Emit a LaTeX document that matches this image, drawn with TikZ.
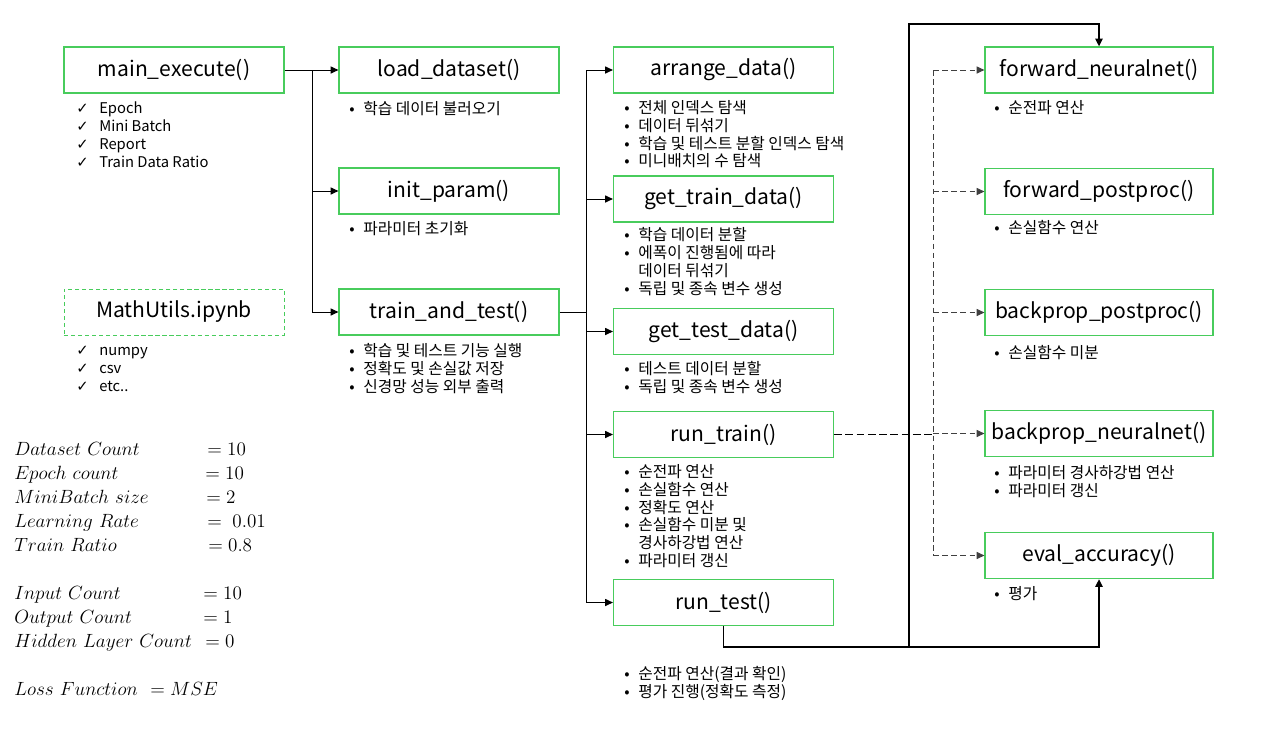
\documentclass[tikz,border=0pt]{standalone}
\usepackage{fontspec}
\usepackage{tikz}
\usetikzlibrary{arrows.meta}
\newfontfamily\kr{Noto Sans CJK KR}
\newfontfamily\sym{DejaVu Sans}
\definecolor{boxgreen}{RGB}{72,204,92}
\newcommand{\bl}{\strut\makebox[0.35cm][l]{•}}
\newcommand{\bc}{\strut\hspace*{0.35cm}}
\newcommand{\ck}{\strut\makebox[0.575cm][l]{{\sym ✓}}}
\newcommand{\tightlines}{\lineskiplimit=-20pt\relax}
\newcommand{\eqm}[1]{\scalebox{0.945}{$#1$}}

\begin{document}
\begin{tikzpicture}[x=0.025cm, y=-0.025cm,
	fn/.style={draw=boxgreen, line width=0.8pt, minimum width=5.5cm, minimum height=1.15cm, inner sep=0pt, font=\kr\fontsize{15}{18}\selectfont},
	fnr/.style={fn, minimum width=5.7cm},
	note/.style={anchor=north west, inner sep=0pt, align=left, font=\kr\fontsize{11.2}{12.7}\selectfont\tightlines},
	cklist/.style={note, font=\kr\fontsize{10.5}{12.7}\selectfont\tightlines},
	eq/.style={anchor=base west, inner sep=0pt, font=\fontsize{14.4}{16}\selectfont},
	arr/.style={line width=0.7pt, -{Triangle[length=5.5pt,width=5pt]}},
	dsh/.style={arr, dash pattern=on 4pt off 2.5pt, black!75},
	bold/.style={arr, line width=1.4pt}]
	\useasboundingbox (0,0) rectangle (1278,744);

	% left column
	\node[fn] (main) at (174,70) {main\_execute()};
	\node[cklist] (mainck) at (76,101) {\ck Epoch\\ \ck Mini Batch\\ \ck Report\\ \ck Train Data Ratio};
	\node[fn, dash pattern=on 3pt off 2pt, line width=0.6pt] (utils) at (174,312) {MathUtils.ipynb};
	\node[cklist] (utilsck) at (76,343) {\ck numpy\\ \ck csv\\ \ck etc..};

	\foreach \k/\t/\x/\v/\y in {1/Dataset\ Count/207/10/450, 2/Epoch\ count/205/10/474,
		3/MiniBatch\ size/206/2/498, 4/Learning\ Rate/207/\;0.01/522, 5/Train\ Ratio/208/0.8/546,
		6/Input\ Count/203/10/594, 7/Output\ Count/203/1/618, 8/Hidden\ Layer\ Count/205/0/642,
		9/Loss\ Function/150/MSE/690}{
		\node[eq] (k\k) at (14,\y+5) {\eqm{\t}};
		\node[eq] (v\k) at (\x,\y+5) {\eqm{=\v}};
	}

	% second column
	\node[fn] (load) at (449,70) {load\_dataset()};
	\node[note] (loadn) at (349,101) {\bl 학습 데이터 불러오기};
	\node[fn] (init) at (449,191) {init\_param()};
	\node[note] (initn) at (349,221) {\bl 파라미터 초기화};
	\node[fn] (train) at (449,312) {train\_and\_test()};
	\node[note] (trainn) at (349,343) {\bl 학습 및 테스트 기능 실행\\ \bl 정확도 및 손실값 저장\\ \bl 신경망 성능 외부 출력};

	% third column
	\node[fn] (arrange) at (723.5,70) {arrange\_data()};
	\node[note] (arrangen) at (624,100) {\bl 전체 인덱스 탐색\\ \bl 데이터 뒤섞기\\ \bl 학습 및 테스트 분할 인덱스 탐색\\ \bl 미니배치의 수 탐색};
	\node[fn] (gettrain) at (723.5,199) {get\_train\_data()};
	\node[note] (gettrainn) at (624,227) {\bl 학습 데이터 분할\\ \bl 에폭이 진행됨에 따라\\ \bc 데이터 뒤섞기\\ \bl 독립 및 종속 변수 생성};
	\node[fn] (gettest) at (723.5,331.5) {get\_test\_data()};
	\node[note] (gettestn) at (624,361) {\bl 테스트 데이터 분할\\ \bl 독립 및 종속 변수 생성};
	\node[fn] (runtrain) at (723.5,434.5) {run\_train()};
	\node[note] (runtrainn) at (624,464) {\bl 순전파 연산\\ \bl 손실함수 연산\\ \bl 정확도 연산\\ \bl 손실함수 미분 및\\ \bc 경사하강법 연산\\ \bl 파라미터 갱신};
	\node[fn] (runtest) at (723.5,602.5) {run\_test()};
	\node[note] (runtestn) at (624,666) {\bl 순전파 연산(결과 확인)\\ \bl 평가 진행(정확도 측정)};

	% right column
	\node[fnr] (fwdnet) at (1099,70) {forward\_neuralnet()};
	\node[note] (fwdnetn) at (994,100) {\bl 순전파 연산};
	\node[fnr] (fwdpost) at (1099,191.5) {forward\_postproc()};
	\node[note] (fwdpostn) at (994,220) {\bl 손실함수 연산};
	\node[fnr] (bppost) at (1099,312.5) {backprop\_postproc()};
	\node[note] (bppostn) at (994,345) {\bl 손실함수 미분};
	\node[fnr] (bpnet) at (1099,433.5) {backprop\_neuralnet()};
	\node[note] (bpnetn) at (994,465) {\bl 파라미터 경사하강법 연산\\ \bl 파라미터 갱신};
	\node[fnr] (evalacc) at (1099,555.5) {eval\_accuracy()};
	\node[note] (evalaccn) at (994,586) {\bl 평가};

	% connectors
	\coordinate (t1) at (312,70);
	\draw[arr] (main) -- (load);
	\draw[line width=0.7pt] (t1) -- (t1 |- train.west);
	\foreach \n in {init,train}
		\draw[arr] (t1 |- \n.west) -- (\n.west);

	\coordinate (t2) at (586,312);
	\draw[line width=0.7pt] (train.east) -- (t2);
	\draw[line width=0.7pt] (t2 |- arrange.west) -- (t2 |- runtest.west);
	\foreach \n in {arrange,gettrain,gettest,runtrain,runtest}
		\draw[arr] (t2 |- \n.west) -- (\n.west);

	\coordinate (t3) at (933,434.5);
	\draw[line width=1.4pt, dash pattern=on 5.5pt off 2.5pt] (runtrain.east) -- (t3);
	\draw[dsh, -] (t3 |- fwdnet.west) -- (t3 |- evalacc.west);
	\foreach \n in {fwdnet,fwdpost,bppost,bpnet,evalacc}
		\draw[dsh] (t3 |- \n.west) -- (\n.west);

	\coordinate (bend) at (909,647);
	\coordinate (top) at (909,24);
	\draw[bold] (runtest.south) |- (bend) -- (top) -| (fwdnet.north);
	\draw[bold] (bend) -| (evalacc.south);
\end{tikzpicture}
\end{document}
